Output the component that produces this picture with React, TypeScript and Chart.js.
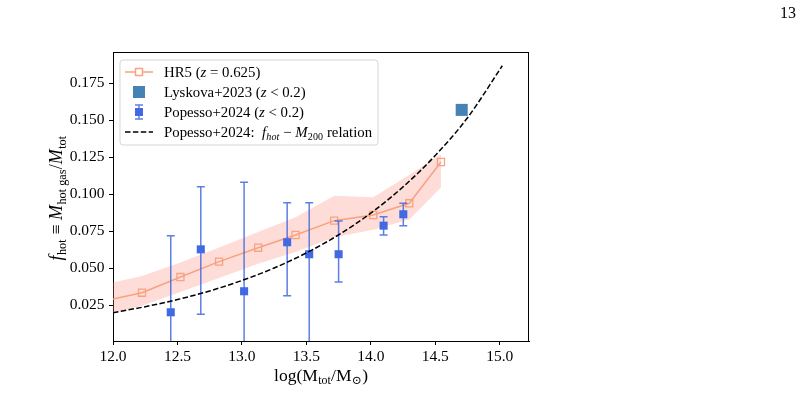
import React, { useEffect, useRef } from "react";
import { Chart, registerables } from "chart.js";

Chart.register(...registerables);

const FAMILY = "'Liberation Serif', 'DejaVu Serif', serif";

// ---- tick labels ----
const xTicks = [12.0, 12.5, 13.0, 13.5, 14.0, 14.5, 15.0];
const yTicks = [0.025, 0.05, 0.075, 0.1, 0.125, 0.15, 0.175];

// ---- HR5 (z = 0.625) ----
const hr5Mass = [11.925, 12.225, 12.523, 12.823, 13.126, 13.416, 13.716, 14.019, 14.298, 14.544];
const hr5Frac = [0.0279, 0.0335, 0.0441, 0.0545, 0.0639, 0.0725, 0.0822, 0.086, 0.0939, 0.1218];
const hr5Upper = [0.039, 0.0448, 0.054, 0.064, 0.0745, 0.0845, 0.099, 0.098, 0.113, 0.127];
const hr5Lower = [0.018, 0.0247, 0.034, 0.0435, 0.053, 0.061, 0.071, 0.076, 0.083, 0.1045];

// ---- Popesso+2024 (z < 0.2) ----
const popMass = [12.448, 12.681, 13.017, 13.351, 13.522, 13.75, 14.099, 14.252];
const popFrac = [0.0203, 0.0628, 0.0345, 0.0676, 0.0595, 0.0595, 0.0788, 0.0865];
const popHigh = [0.072, 0.1051, 0.1081, 0.0943, 0.0943, 0.082, 0.0849, 0.0939];
const popLow = [-0.031, 0.0189, -0.039, 0.0315, -0.005, 0.0407, 0.0725, 0.0788];

// ---- Lyskova+2023 (z < 0.2) ----
const lyskovaMass = [14.705];
const lyskovaFrac = [0.157];

// ---- Popesso+2024 f_hot - M200 relation ----
const relMass = [12.0, 12.25, 12.5, 12.75, 13.0, 13.25, 13.5, 13.75, 14.0, 14.25, 14.5, 14.75, 15.02];
const relFrac = [0.02, 0.0241, 0.0289, 0.0347, 0.0418, 0.0502, 0.0604, 0.0726, 0.0873, 0.105, 0.1262, 0.1517, 0.1868];

const HR5_LINE = "rgb(247,162,128)";
const HR5_BAND = "rgba(250,128,114,0.28)";
const POP_COLOR = "rgb(65,105,225)";
const POP_BAR = "rgba(65,105,225,0.85)";
const LYS_COLOR = "rgb(70,130,180)";

const POP_INDEX = 3;

type Part = { t: string; it?: boolean; sub?: boolean };

function fontFor(p: Part, size: number) {
  const s = p.sub ? size * 0.68 : size;
  return `${p.it ? "italic " : ""}${s}px ${FAMILY}`;
}

function drawRich(
  ctx: CanvasRenderingContext2D,
  parts: Part[],
  x: number,
  cy: number,
  size: number,
  align: "left" | "center"
) {
  let total = 0;
  const widths: number[] = [];
  for (const p of parts) {
    ctx.font = fontFor(p, size);
    const w = ctx.measureText(p.t).width + (p.sub ? size * 0.04 : 0);
    widths.push(w);
    total += w;
  }
  let cx = align === "center" ? x - total / 2 : x;
  const base = cy + size * 0.33;
  ctx.textBaseline = "alphabetic";
  ctx.textAlign = "left";
  ctx.fillStyle = "#000";
  parts.forEach((p, i) => {
    ctx.font = fontFor(p, size);
    ctx.fillText(p.t, cx + (p.sub ? size * 0.02 : 0), base + (p.sub ? size * 0.2 : 0));
    cx += widths[i];
  });
}

const extras = {
  id: "extras",
  beforeDatasetDraw(chart: any, args: any) {
    if (args.index !== POP_INDEX) return;
    const { ctx, chartArea } = chart;
    const xs = chart.scales.x;
    const ys = chart.scales.y;
    ctx.save();
    ctx.beginPath();
    ctx.rect(chartArea.left, chartArea.top, chartArea.right - chartArea.left, chartArea.bottom - chartArea.top);
    ctx.clip();
    ctx.strokeStyle = POP_BAR;
    ctx.lineWidth = 1.5;
    for (let i = 0; i < popMass.length; i++) {
      const px = xs.getPixelForValue(popMass[i]);
      const yh = ys.getPixelForValue(popHigh[i]);
      const yl = ys.getPixelForValue(popLow[i]);
      ctx.beginPath();
      ctx.moveTo(px, yl);
      ctx.lineTo(px, yh);
      ctx.moveTo(px - 4, yh);
      ctx.lineTo(px + 4, yh);
      ctx.moveTo(px - 4, yl);
      ctx.lineTo(px + 4, yl);
      ctx.stroke();
    }
    ctx.restore();
  },
  afterDatasetsDraw(chart: any) {
    const { ctx } = chart;
    ctx.save();
    // legend box
    const lx = 120, ly = 60, lw = 258, lh = 85, r = 3;
    ctx.beginPath();
    ctx.moveTo(lx + r, ly);
    ctx.arcTo(lx + lw, ly, lx + lw, ly + lh, r);
    ctx.arcTo(lx + lw, ly + lh, lx, ly + lh, r);
    ctx.arcTo(lx, ly + lh, lx, ly, r);
    ctx.arcTo(lx, ly, lx + lw, ly, r);
    ctx.closePath();
    ctx.fillStyle = "rgba(255,255,255,0.8)";
    ctx.fill();
    ctx.strokeStyle = "rgba(204,204,204,0.8)";
    ctx.lineWidth = 1;
    ctx.stroke();

    const mx = 139;
    const tx = 164;
    const rows = [72, 92, 112, 132];
    // HR5
    ctx.strokeStyle = HR5_LINE;
    ctx.lineWidth = 1.5;
    ctx.beginPath();
    ctx.moveTo(125, rows[0]);
    ctx.lineTo(153, rows[0]);
    ctx.stroke();
    ctx.fillStyle = "#fff";
    ctx.fillRect(mx - 3.5, rows[0] - 3.5, 7, 7);
    ctx.strokeRect(mx - 3.5, rows[0] - 3.5, 7, 7);
    // Lyskova
    ctx.fillStyle = LYS_COLOR;
    ctx.fillRect(mx - 6, rows[1] - 6, 12, 12);
    // Popesso errorbar
    ctx.strokeStyle = POP_BAR;
    ctx.lineWidth = 1.5;
    ctx.beginPath();
    ctx.moveTo(mx, rows[2] - 7);
    ctx.lineTo(mx, rows[2] + 7);
    ctx.moveTo(mx - 4, rows[2] - 7);
    ctx.lineTo(mx + 4, rows[2] - 7);
    ctx.moveTo(mx - 4, rows[2] + 7);
    ctx.lineTo(mx + 4, rows[2] + 7);
    ctx.stroke();
    ctx.fillStyle = POP_COLOR;
    ctx.fillRect(mx - 4, rows[2] - 4, 8, 8);
    // dashed
    ctx.strokeStyle = "#000";
    ctx.setLineDash([5.5, 2.4]);
    ctx.beginPath();
    ctx.moveTo(125, rows[3]);
    ctx.lineTo(153, rows[3]);
    ctx.stroke();
    ctx.setLineDash([]);

    const fs = 14.8;
    drawRich(ctx, [{ t: "HR5 (" }, { t: "z", it: true }, { t: " = 0.625)" }], tx, rows[0], fs, "left");
    drawRich(ctx, [{ t: "Lyskova+2023 (" }, { t: "z", it: true }, { t: " < 0.2)" }], tx, rows[1], fs, "left");
    drawRich(ctx, [{ t: "Popesso+2024 (" }, { t: "z", it: true }, { t: " < 0.2)" }], tx, rows[2], fs, "left");
    drawRich(
      ctx,
      [
        { t: "Popesso+2024:  " },
        { t: "f", it: true },
        { t: "hot", it: true, sub: true },
        { t: " − " },
        { t: "M", it: true },
        { t: "200", sub: true },
        { t: " relation" },
      ],
      tx,
      rows[3],
      fs,
      "left"
    );
    ctx.restore();
  },
  afterDraw(chart: any) {
    const { ctx, chartArea } = chart;
    ctx.save();
    // top & right spines
    ctx.strokeStyle = "#000";
    ctx.lineWidth = 1;
    ctx.beginPath();
    ctx.moveTo(chartArea.left, chartArea.top + 0.5);
    ctx.lineTo(chartArea.right, chartArea.top + 0.5);
    ctx.moveTo(chartArea.right - 0.5, chartArea.top);
    ctx.lineTo(chartArea.right - 0.5, chartArea.bottom);
    ctx.stroke();

    // x title
    drawRich(
      ctx,
      [{ t: "log(M" }, { t: "tot", sub: true }, { t: "/M" }, { t: "⊙", sub: true }, { t: ")" }],
      321,
      375,
      17.5,
      "center"
    );
    // y title
    ctx.translate(56, 198);
    ctx.rotate(-Math.PI / 2);
    drawRich(
      ctx,
      [
        { t: "f", it: true },
        { t: "hot", sub: true },
        { t: " ≡ " },
        { t: "M", it: true },
        { t: "hot gas", sub: true },
        { t: "/" },
        { t: "M", it: true },
        { t: "tot", sub: true },
      ],
      0,
      0,
      18,
      "center"
    );
    ctx.restore();

    // page number
    ctx.save();
    ctx.font = `16px ${FAMILY}`;
    ctx.fillStyle = "#000";
    ctx.textAlign = "center";
    ctx.textBaseline = "middle";
    ctx.fillText("13", 788, 14);
    ctx.restore();
  },
};

export default function App() {
  const ref = useRef<HTMLCanvasElement | null>(null);

  useEffect(() => {
    if (!ref.current) return;
    const pts = (xs: number[], ys: number[]) => xs.map((x, i) => ({ x, y: ys[i] }));
    const tickFont = { family: FAMILY, size: 15.5 };

    const chart = new Chart(ref.current, {
      type: "line",
      data: {
        datasets: [
          {
            data: pts(hr5Mass, hr5Lower),
            borderWidth: 0,
            pointRadius: 0,
            fill: false,
            order: 10,
          },
          {
            data: pts(hr5Mass, hr5Upper),
            borderWidth: 0,
            pointRadius: 0,
            fill: "-1",
            backgroundColor: HR5_BAND,
            order: 9,
          },
          {
            data: pts(hr5Mass, hr5Frac),
            borderColor: HR5_LINE,
            borderWidth: 1.5,
            pointStyle: "rect",
            pointRadius: 5,
            pointBorderWidth: 1.3,
            pointBorderColor: HR5_LINE,
            pointBackgroundColor: "rgba(0,0,0,0)",
            fill: false,
            order: 8,
          },
          {
            data: pts(popMass, popFrac),
            showLine: false,
            pointStyle: "rect",
            pointRadius: 5.7,
            pointBorderWidth: 0,
            pointBackgroundColor: POP_COLOR,
            order: 7,
          },
          {
            data: pts(lyskovaMass, lyskovaFrac),
            showLine: false,
            pointStyle: "rect",
            pointRadius: 8.5,
            pointBorderWidth: 0,
            pointBackgroundColor: LYS_COLOR,
            order: 6,
          },
          {
            data: pts(relMass, relFrac),
            borderColor: "#000",
            borderWidth: 1.5,
            borderDash: [5.5, 2.4],
            pointRadius: 0,
            cubicInterpolationMode: "monotone",
            fill: false,
            order: 5,
          },
        ],
      } as any,
      options: {
        animation: false,
        responsive: false,
        events: [],
        layout: { padding: { left: 63, right: 275, top: 52, bottom: 45 } },
        plugins: { legend: { display: false }, tooltip: { enabled: false } },
        scales: {
          x: {
            type: "linear",
            min: 12.0,
            max: 15.227,
            afterBuildTicks: (s: any) => {
              s.ticks = xTicks.map((v) => ({ value: v }));
            },
            afterFit: (s: any) => {
              s.height = 30;
            },
            ticks: {
              font: tickFont,
              color: "#000",
              padding: 3,
              autoSkip: false,
              maxRotation: 0,
              callback: (v: any) => Number(v).toFixed(1),
            },
            grid: { display: true, drawOnChartArea: false, drawTicks: true, tickLength: 4, color: "#000", lineWidth: 1 },
            border: { display: true, color: "#000", width: 1 },
          },
          y: {
            type: "linear",
            min: 0.0009,
            max: 0.1961,
            afterBuildTicks: (s: any) => {
              s.ticks = yTicks.map((v) => ({ value: v }));
            },
            afterFit: (s: any) => {
              s.width = 50;
            },
            ticks: {
              font: tickFont,
              color: "#000",
              padding: 4.5,
              autoSkip: false,
              callback: (v: any) => Number(v).toFixed(3),
            },
            grid: { display: true, drawOnChartArea: false, drawTicks: true, tickLength: 4, color: "#000", lineWidth: 1 },
            border: { display: true, color: "#000", width: 1 },
          },
        },
      } as any,
      plugins: [extras],
    });
    return () => chart.destroy();
  }, []);

  return (
    <div style={{ position: "fixed", left: 0, top: 0, width: 804, height: 416, background: "#fff" }}>
      <canvas ref={ref} width={804} height={416} style={{ display: "block", width: 804, height: 416 }} />
    </div>
  );
}
